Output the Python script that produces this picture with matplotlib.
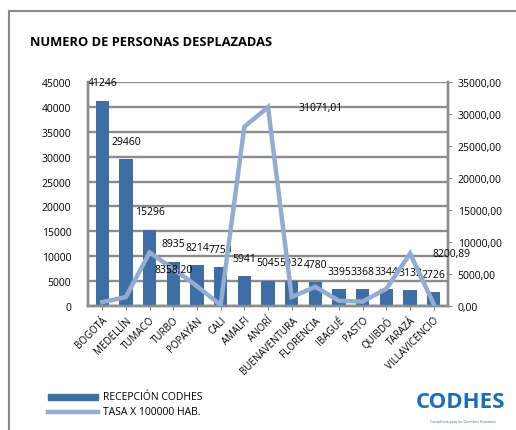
import matplotlib
matplotlib.use("Agg")
import matplotlib.pyplot as plt
from matplotlib.patches import Rectangle
from matplotlib.lines import Line2D

plt.rcParams['font.family'] = ['Open Sans', 'DejaVu Sans']

cities = ["BOGOTÁ", "MEDELLÍN", "TUMACO", "TURBO", "POPAYÁN", "CALI", "AMALFI", "ANORÍ",
          "BUENAVENTURA", "FLORENCIA", "IBAGUÉ", "PASTO", "QUIBDÓ", "TARAZÁ", "VILLAVICENCIO"]
recepcion = [41246, 29460, 15296, 8935, 8214, 7750, 5941, 5045, 5032, 4780, 3395, 3368, 3344, 3132, 2726]
tasa = [600, 1400, 8358.20, 5800, 3100, 150, 28000, 31071.01, 1400, 3000, 800, 700, 2700, 8200.89, 300]
tasa_labeled = {2: "8358,20", 7: "31071,01", 13: "8200,89"}
left_ticks = [0, 5000, 10000, 15000, 20000, 25000, 30000, 35000, 40000, 45000]
right_ticks = [0, 5000, 10000, 15000, 20000, 25000, 30000, 35000]

W, H = 516, 431
fig = plt.figure(figsize=(W / 100, H / 100), dpi=100)

# outer chart border
fig.patches.append(Rectangle((9 / W, -0.1), 1.2, 1 - 12 / H + 0.1, transform=fig.transFigure,
                             fill=False, edgecolor="#8a8a8a", linewidth=1.5))

ax = fig.add_axes([88 / W, 1 - 307 / H, (448 - 88) / W, (307 - 83) / H])
ax2 = ax.twinx()

bar_color = "#3d6ea6"
line_color = "#93acd3"
grid_color = "#8c8c8c"

x = list(range(len(cities)))
ax.bar(x, recepcion, width=0.56, color=bar_color, zorder=2)
ax.set_ylim(0, 45000)
ax.set_xlim(-0.6, len(cities) - 0.4)
ax.set_yticks(left_ticks)
ax.set_yticklabels([str(t) for t in left_ticks], fontsize=7.5)
ax.tick_params(axis='y', length=0, pad=12)
ax.yaxis.grid(True, color=grid_color, linewidth=1.7, zorder=0)
ax.set_axisbelow(True)
ax.set_xticks(x)
ax.set_xticklabels(cities, rotation=45, ha='right', rotation_mode='anchor', fontsize=7)
ax.tick_params(axis='x', length=3, color=grid_color, pad=3)

for s in ['top']:
    ax.spines[s].set_visible(False)
    ax2.spines[s].set_visible(False)
for a in (ax, ax2):
    for s in ('left', 'right', 'bottom'):
        a.spines[s].set_color(grid_color)
        a.spines[s].set_linewidth(1.7)

for i, v in enumerate(recepcion):
    ax.annotate(str(v), (i, v), xytext=(0, 13), textcoords='offset points',
                ha='center', va='center', fontsize=7.5, zorder=5)

ax2.plot(x, tasa, color=line_color, linewidth=3.2, solid_joinstyle='miter', zorder=3)
ax2.set_ylim(0, 35000)
ax2.set_yticks(right_ticks)
ax2.set_yticklabels([f"{t},00" for t in right_ticks], fontsize=7.5)
ax2.tick_params(axis='y', length=3, color=grid_color, pad=4)

offsets = {2: (17, -12), 7: (38, 0), 13: (30, 0)}
for i, lab in tasa_labeled.items():
    ax2.annotate(lab, (i, tasa[i]), xytext=offsets[i], textcoords='offset points',
                 ha='center', va='center', fontsize=7.5, zorder=5)

fig.text(30 / W, 1 - 43 / H, "NUMERO DE PERSONAS DESPLAZADAS", fontsize=9.3,
         fontweight='bold', ha='left', va='center')

# legend
fig.patches.append(Rectangle((48 / W, 1 - 401 / H), 50 / W, 6 / H, transform=fig.transFigure,
                             color=bar_color))
fig.text(103 / W, 1 - 398 / H, "RECEPCIÓN CODHES", fontsize=7.5, ha='left', va='center')
fig.lines.append(Line2D([48 / W, 98 / W], [1 - 413 / H, 1 - 413 / H], transform=fig.transFigure,
                        color=line_color, linewidth=3.2))
fig.text(103 / W, 1 - 413 / H, "TASA X 100000 HAB.", fontsize=7.5, ha='left', va='center')

# logo
fig.text(416 / W, 1 - 403 / H, "CODHES", fontsize=16, fontweight='bold', color="#1a6fb8",
         ha='left', va='center')
fig.text(430 / W, 1 - 422 / H, "Consultoría para los Derechos Humanos",
         fontsize=2.5, color="#1a6fb8", ha='left', va='center')

fig.savefig("out.png", dpi=100)
